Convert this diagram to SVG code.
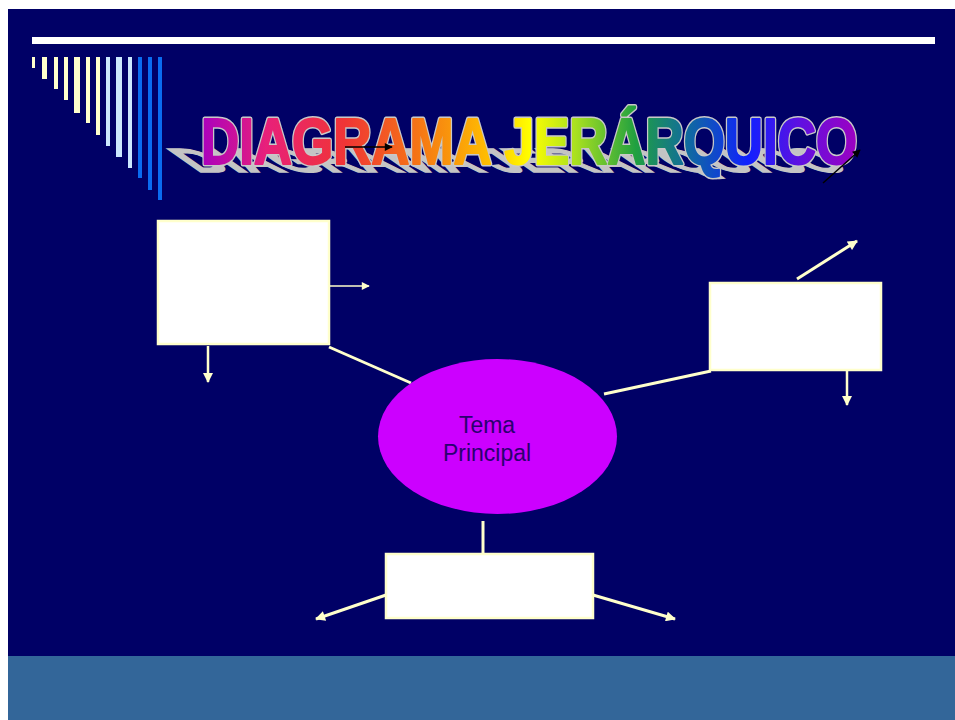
<svg xmlns="http://www.w3.org/2000/svg" width="955" height="720" viewBox="0 0 955 720">
<defs>
<style>
.box{fill:#ffffff;stroke:#ffffcc;stroke-width:2.5}
.con{stroke:#ffffcc;fill:none;stroke-linecap:butt}
.blk{stroke:#000000;stroke-width:1.5;fill:none}
.title{font-family:"Liberation Sans",Arial,sans-serif;font-weight:bold;font-size:64px}
.lbl{font-family:"Liberation Sans",Arial,sans-serif;font-size:23px;fill:#2a0070;text-anchor:middle}
</style>
<marker id="ah" viewBox="0 0 10 10" refX="9" refY="5" markerUnits="userSpaceOnUse" markerWidth="11" markerHeight="10" orient="auto">
<path d="M0,0 L10,5 L0,10 z" fill="#ffffcc"/>
</marker>
<marker id="ahs" viewBox="0 0 10 10" refX="9" refY="5" markerUnits="userSpaceOnUse" markerWidth="9" markerHeight="8" orient="auto">
<path d="M0,0 L10,5 L0,10 z" fill="#ffffcc"/>
</marker>
<marker id="ahb" viewBox="0 0 10 10" refX="9" refY="5" markerUnits="userSpaceOnUse" markerWidth="9" markerHeight="8" orient="auto">
<path d="M0,0 L10,5 L0,10 z" fill="#000000"/>
</marker>
<linearGradient id="rainbow" gradientUnits="userSpaceOnUse" x1="200" y1="0" x2="860" y2="0">
<stop offset="0" stop-color="#a800c0"/>
<stop offset="0.1" stop-color="#e8207a"/>
<stop offset="0.22" stop-color="#f03535"/>
<stop offset="0.33" stop-color="#f57515"/>
<stop offset="0.44" stop-color="#ffc000"/>
<stop offset="0.5" stop-color="#ffff00"/>
<stop offset="0.57" stop-color="#a8e020"/>
<stop offset="0.66" stop-color="#20a040"/>
<stop offset="0.74" stop-color="#106aa0"/>
<stop offset="0.83" stop-color="#1020ff"/>
<stop offset="0.91" stop-color="#6010e0"/>
<stop offset="1" stop-color="#a000c0"/>
</linearGradient>
</defs>

<rect x="0" y="0" width="955" height="720" fill="#ffffff"/>
<rect x="8" y="9" width="947" height="711" fill="#000066"/>
<rect x="8" y="656" width="947" height="64" fill="#336699"/>

<g id="decor">
<rect x="32" y="37" width="903" height="7" fill="#ffffff"/>
<rect x="32" y="57" width="3" height="11" fill="#ffffcc"/>
<rect x="42" y="57" width="5" height="22" fill="#ffffcc"/>
<rect x="54" y="57" width="4" height="32" fill="#ffffcc"/>
<rect x="64" y="57" width="4" height="43" fill="#ffffcc"/>
<rect x="74" y="57" width="6" height="56" fill="#ffffcc"/>
<rect x="86" y="57" width="4" height="66" fill="#ffffcc"/>
<rect x="96" y="57" width="4" height="78" fill="#ffffcc"/>
<rect x="106" y="57" width="4" height="89" fill="#cce8ff"/>
<rect x="116" y="57" width="6" height="100" fill="#cce8ff"/>
<rect x="128" y="57" width="4" height="111" fill="#cce8ff"/>
<rect x="138" y="57" width="4" height="121" fill="#0a6cf0"/>
<rect x="148" y="57" width="4" height="133" fill="#0a6cf0"/>
<rect x="158" y="57" width="4" height="143" fill="#0a6cf0"/>
</g>

<g id="title">
<text class="title" x="201" y="0" textLength="656" lengthAdjust="spacingAndGlyphs" fill="#c4c4c4" stroke="#c4c4c4" stroke-width="3" transform="translate(-4,172) skewX(55) scale(1,0.52)">DIAGRAMA JERÁRQUICO</text>
<text class="title" x="201" y="164" textLength="656" lengthAdjust="spacingAndGlyphs" fill="#c8c8c8" stroke="#c8c8c8" stroke-width="5" stroke-linejoin="round">DIAGRAMA JERÁRQUICO</text>
<text class="title" x="201" y="164" textLength="656" lengthAdjust="spacingAndGlyphs" fill="url(#rainbow)" stroke="url(#rainbow)" stroke-width="2" stroke-linejoin="round">DIAGRAMA JERÁRQUICO</text>
<line class="blk" x1="345" y1="147" x2="392" y2="147" marker-end="url(#ahb)"/>
<line class="blk" x1="823" y1="183" x2="860" y2="150" marker-end="url(#ahb)"/>
</g>

<g id="connectors">
<line class="con" x1="329" y1="347" x2="411" y2="383" stroke-width="3"/>
<line class="con" x1="604" y1="394" x2="711" y2="371" stroke-width="3"/>
<line class="con" x1="483" y1="521" x2="483" y2="554" stroke-width="3"/>
<line class="con" x1="330" y1="286" x2="369" y2="286" stroke-width="1.5" marker-end="url(#ahs)"/>
<line class="con" x1="208" y1="346" x2="208" y2="382" stroke-width="2.5" marker-end="url(#ah)"/>
<line class="con" x1="797" y1="279" x2="857" y2="241" stroke-width="3" marker-end="url(#ah)"/>
<line class="con" x1="847" y1="371" x2="847" y2="405" stroke-width="2.5" marker-end="url(#ah)"/>
<line class="con" x1="386" y1="595" x2="316" y2="619" stroke-width="3" marker-end="url(#ah)"/>
<line class="con" x1="593" y1="595" x2="675" y2="619" stroke-width="3" marker-end="url(#ah)"/>
</g>

<g id="box1"><rect class="box" x="158" y="221" width="171" height="123"/></g>
<g id="box2"><rect class="box" x="710" y="283" width="171" height="87"/></g>
<g id="box3"><rect class="box" x="386" y="554" width="207" height="64"/></g>

<g id="main">
<ellipse cx="497.5" cy="436.5" rx="119.5" ry="77.5" fill="#cc00ff"/>
<text class="lbl" x="487" y="433">Tema</text>
<text class="lbl" x="487" y="461">Principal</text>
</g>
</svg>
